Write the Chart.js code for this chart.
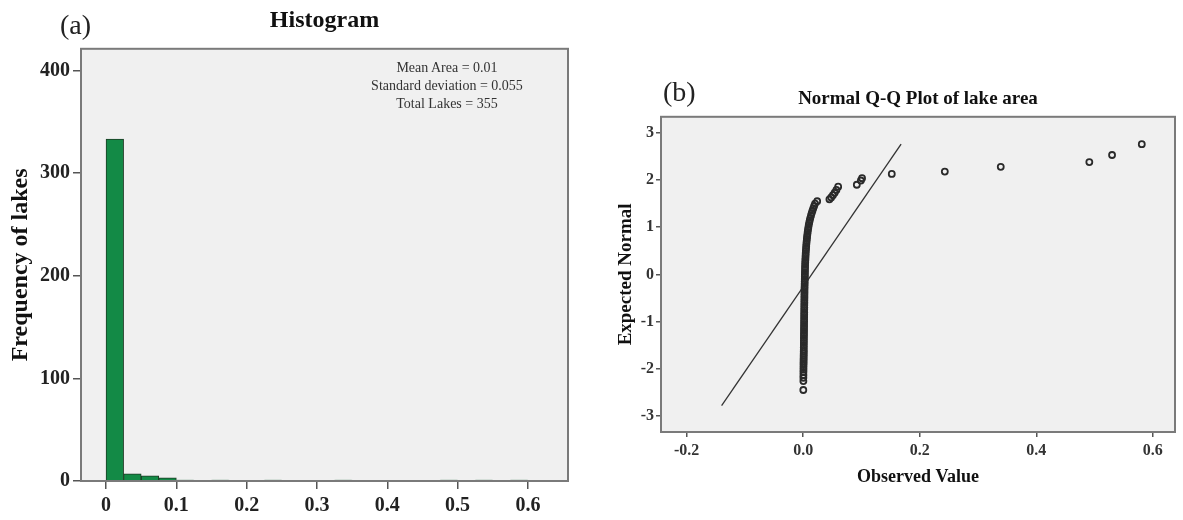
<!DOCTYPE html>
<html>
<head>
<meta charset="utf-8">
<script src="https://cdn.jsdelivr.net/npm/chart.js@4.4.0/dist/chart.umd.min.js"></script>
<style>
html, body { margin: 0; padding: 0; background: #fff; }
#wrap { position: relative; width: 1183px; height: 520px; overflow: hidden; font-family: 'Liberation Serif', 'Times New Roman', serif; }
#histBox { position: absolute; left: 0; top: 0; width: 590px; height: 520px; }
#qqBox { position: absolute; left: 600px; top: 0; width: 583px; height: 520px; }
.panel-tag { position: absolute; font-size: 28px; line-height: 30px; color: #222; }
#stats { position: absolute; left: 337px; top: 59px; width: 220px; text-align: center; font-size: 14px; line-height: 18px; color: #333; }
</style>
</head>
<body>
<div id="wrap">
    <div id="histBox"><canvas id="histChart"></canvas></div>
    <div id="qqBox"><canvas id="qqChart"></canvas></div>
    <div class="panel-tag" style="left:60px;top:10px;">(a)</div>
    <div class="panel-tag" style="left:663px;top:77px;">(b)</div>
    <div id="stats">Mean Area = 0.01<br>Standard deviation = 0.055<br>Total Lakes = 355</div>
</div>
<script>
// histogram: bin centres (width 0.025) and lake counts
const binCenters = [0.0125, 0.0375, 0.0625, 0.0875, 0.1125, 0.1375, 0.1625, 0.1875, 0.2125, 0.2375, 0.2625, 0.2875,
    0.3125, 0.3375, 0.3625, 0.3875, 0.4125, 0.4375, 0.4625, 0.4875, 0.5125, 0.5375, 0.5625, 0.5875];
const lakeCounts = [333, 7, 5, 3, 1, 0, 1, 0, 0, 1, 0, 0, 0, 1, 0, 0, 0, 0, 0, 1, 0, 1, 0, 1];
const histXTicks = [0, 0.1, 0.2, 0.3, 0.4, 0.5, 0.6];
const histXLabels = ['0', '0.1', '0.2', '0.3', '0.4', '0.5', '0.6'];
const histYTicks = [0, 100, 200, 300, 400];

// Q-Q plot: observed lake area vs expected normal
const observedValues = [
    0.0002, 0.0003, 0.0003, 0.0004, 0.0004, 0.0005, 0.0005, 0.0006, 0.0006, 0.0007, 0.0007, 0.0008, 0.0008, 0.0009, 0.0009,
    0.0010, 0.0010, 0.0011, 0.0011, 0.0012, 0.0012, 0.0013, 0.0013, 0.0014, 0.0014, 0.0015, 0.0015, 0.0016, 0.0016,
    0.0017, 0.0017, 0.0018, 0.0018, 0.0019, 0.0019, 0.0020, 0.0020, 0.0021, 0.0021, 0.0022, 0.0022, 0.0023, 0.0024,
    0.0025, 0.0026, 0.0027, 0.0028, 0.0029, 0.0030, 0.0031, 0.0032, 0.0033, 0.0035, 0.0037, 0.0039, 0.0041, 0.0043,
    0.0046, 0.0049, 0.0052, 0.0055, 0.0059, 0.0063, 0.0067, 0.0072, 0.0077, 0.0083, 0.0089, 0.0096, 0.0104, 0.0113,
    0.0123, 0.0134, 0.0146, 0.0159, 0.0173, 0.0188, 0.0204, 0.0240,
    0.045, 0.048, 0.051, 0.054, 0.057, 0.060,
    0.092, 0.099, 0.101,
    0.152, 0.243, 0.339, 0.491, 0.530, 0.581
];
const expectedNormal = [
    -2.45, -2.26, -2.19, -2.13, -2.07, -2.02, -1.97, -1.92, -1.88, -1.84, -1.80, -1.76, -1.72, -1.68, -1.64,
    -1.60, -1.55, -1.50, -1.45, -1.40, -1.35, -1.30, -1.25, -1.20, -1.15, -1.10, -1.05, -1.00, -0.95,
    -0.90, -0.85, -0.80, -0.75, -0.70, -0.65, -0.60, -0.55, -0.50, -0.45, -0.40, -0.35, -0.30, -0.25,
    -0.20, -0.15, -0.10, -0.05, 0.00, 0.05, 0.10, 0.15, 0.20, 0.25, 0.30, 0.35, 0.40, 0.45,
    0.50, 0.55, 0.60, 0.65, 0.70, 0.75, 0.80, 0.85, 0.90, 0.95, 1.00, 1.05, 1.10, 1.15,
    1.20, 1.25, 1.30, 1.35, 1.40, 1.45, 1.50, 1.55,
    1.59, 1.63, 1.68, 1.73, 1.79, 1.86,
    1.90, 1.99, 2.04,
    2.13, 2.18, 2.28, 2.38, 2.53, 2.76
];
const refLineX = [-0.14, 0.168];
const refLineY = [-2.78, 2.76];
const qqXTicks = [-0.2, 0, 0.2, 0.4, 0.6];
const qqXLabels = ['-0.2', '0.0', '0.2', '0.4', '0.6'];
const qqYTicks = [-3, -2, -1, 0, 1, 2, 3];

const serif = "'Liberation Serif', 'Times New Roman', serif";

const framePlugin = {
    id: 'frame',
    beforeDraw(chart) {
        const a = chart.chartArea;
        const ctx = chart.ctx;
        ctx.save();
        ctx.fillStyle = '#f0f0f0';
        ctx.fillRect(a.left, a.top, a.right - a.left, a.bottom - a.top);
        ctx.restore();
    },
    afterDraw(chart) {
        const a = chart.chartArea;
        const ctx = chart.ctx;
        ctx.save();
        ctx.strokeStyle = '#7a7a7a';
        ctx.lineWidth = 2;
        ctx.strokeRect(a.left, a.top, a.right - a.left, a.bottom - a.top);
        ctx.restore();
    }
};

function tickGrid(len) {
    return { display: true, offset: false, drawOnChartArea: false, drawTicks: true, tickLength: len, tickColor: '#555', lineWidth: 1.5 };
}

new Chart(document.getElementById('histChart'), {
    type: 'bar',
    data: {
        datasets: [{
            data: binCenters.map((c, i) => ({ x: c, y: lakeCounts[i] })),
            backgroundColor: '#138a46',
            borderColor: '#1d3b24',
            borderWidth: 1,
            barPercentage: 1,
            categoryPercentage: 1
        }]
    },
    options: {
        responsive: true,
        maintainAspectRatio: false,
        animation: false,
        layout: { padding: { left: 0, right: 22, top: 0, bottom: 0 } },
        plugins: {
            legend: { display: false },
            tooltip: { enabled: false },
            title: {
                display: true, text: 'Histogram', fullSize: false, color: '#111',
                font: { family: serif, size: 24, weight: 'bold' },
                padding: { top: 6, bottom: 14 }
            }
        },
        scales: {
            x: {
                type: 'linear', min: -0.0356, max: 0.657, offset: false,
                afterFit: s => { s.height = 39; },
                afterBuildTicks: s => { s.ticks = histXTicks.map(v => ({ value: v })); },
                grid: tickGrid(8),
                border: { display: false },
                ticks: { callback: (v, i) => histXLabels[i], color: '#222', padding: 5, maxRotation: 0, font: { family: serif, size: 20, weight: 'bold' } }
            },
            y: {
                min: 0, max: 421,
                afterFit: s => { s.width = 81; },
                afterBuildTicks: s => { s.ticks = histYTicks.map(v => ({ value: v })); },
                grid: tickGrid(8),
                border: { display: false },
                ticks: { callback: v => String(v), color: '#222', padding: 3, font: { family: serif, size: 20, weight: 'bold' } },
                title: {
                    display: true, text: 'Frequency of lakes', color: '#111',
                    font: { family: serif, size: 24, weight: 'bold' },
                    padding: { top: 6, bottom: 0 }
                }
            }
        }
    },
    plugins: [framePlugin]
});

new Chart(document.getElementById('qqChart'), {
    type: 'scatter',
    data: {
        datasets: [
            {
                data: observedValues.map((v, i) => ({ x: v, y: expectedNormal[i] })),
                pointStyle: 'circle',
                pointRadius: 3,
                borderWidth: 1.8,
                borderColor: '#2a2a2a',
                backgroundColor: 'rgba(0,0,0,0)'
            },
            {
                data: refLineX.map((v, i) => ({ x: v, y: refLineY[i] })),
                showLine: true,
                pointRadius: 0,
                borderColor: '#333',
                borderWidth: 1.3
            }
        ]
    },
    options: {
        responsive: true,
        maintainAspectRatio: false,
        animation: false,
        layout: { padding: { left: 0, right: 8, top: 0, bottom: 0 } },
        plugins: {
            legend: { display: false },
            tooltip: { enabled: false },
            title: {
                display: true, text: 'Normal Q-Q Plot of lake area', fullSize: false, color: '#111',
                font: { family: serif, size: 19, weight: 'bold' },
                padding: { top: 88, bottom: 6 }
            }
        },
        scales: {
            x: {
                type: 'linear', min: -0.244, max: 0.638,
                afterFit: s => { s.height = 88; },
                afterBuildTicks: s => { s.ticks = qqXTicks.map(v => ({ value: v })); },
                grid: tickGrid(5),
                border: { display: false },
                ticks: { callback: (v, i) => qqXLabels[i], color: '#333', padding: 4, maxRotation: 0, font: { family: serif, size: 16, weight: 'bold' } },
                title: {
                    display: true, text: 'Observed Value', color: '#111',
                    font: { family: serif, size: 18, weight: 'bold' },
                    padding: { top: 0, bottom: 32 }
                }
            },
            y: {
                min: -3.34, max: 3.34,
                afterFit: s => { s.width = 61; },
                afterBuildTicks: s => { s.ticks = qqYTicks.map(v => ({ value: v })); },
                grid: tickGrid(5),
                border: { display: false },
                ticks: { callback: v => String(v), color: '#333', padding: 2, font: { family: serif, size: 16, weight: 'bold' } },
                title: {
                    display: true, text: 'Expected Normal', color: '#111',
                    font: { family: serif, size: 19, weight: 'bold' },
                    padding: { top: 15, bottom: 0 }
                }
            }
        }
    },
    plugins: [framePlugin]
});
</script>
</body>
</html>
